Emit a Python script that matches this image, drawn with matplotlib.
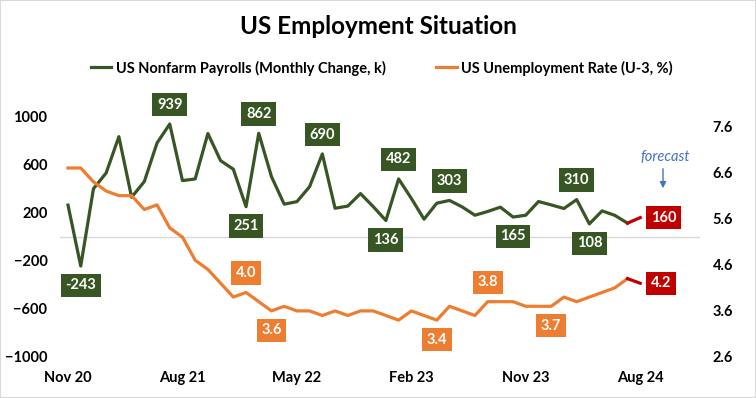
import numpy as np
import matplotlib
matplotlib.use("Agg")
import matplotlib.pyplot as plt
from matplotlib.patches import Rectangle

plt.rcParams['font.family'] = ['Lato', 'DejaVu Sans']

# data: Nov 2020 .. Jul 2024 (actual), Aug 2024 (forecast)
months = ["Nov 20", "Aug 21", "May 22", "Feb 23", "Nov 23", "Aug 24"]
month_tick_idx = [0, 9, 18, 27, 36, 45]

payrolls = [264, -243, 400, 532, 834, 330, 460, 781, 939, 468, 482, 860,
            634, 563, 251, 862, 501, 272, 293, 418, 690, 238, 256, 360,
            252, 136, 482, 320, 147, 280, 303, 249, 180, 211, 247, 165,
            180, 294, 266, 236, 310, 108, 216, 179, 114]
unemp = [6.7, 6.7, 6.4, 6.2, 6.1, 6.1, 5.8, 5.9, 5.4, 5.2, 4.7, 4.5,
         4.2, 3.9, 4.0, 3.8, 3.6, 3.7, 3.6, 3.6, 3.5, 3.6, 3.5, 3.6,
         3.6, 3.5, 3.4, 3.6, 3.5, 3.4, 3.7, 3.6, 3.5, 3.8, 3.8, 3.8,
         3.7, 3.7, 3.7, 3.9, 3.8, 3.9, 4.0, 4.1, 4.3]
payrolls_fc = 160
unemp_fc = 4.2

# which points get a label, and whether above (+1) or below (-1)
pay_labels = {1: -1, 8: 1, 14: -1, 15: 1, 20: 1, 25: -1, 26: 1, 30: 1,
              35: -1, 40: 1, 41: -1}
unemp_labels = {14: 1, 16: -1, 29: -1, 33: 1, 38: -1}

GREEN = "#375623"
ORANGE = "#ED7D31"
RED = "#C00000"
BLUE = "#4472C4"

W, H = 756, 398
fig = plt.figure(figsize=(W / 100, H / 100), dpi=100)
fig.patches.append(Rectangle((0, 0), 1, 1, transform=fig.transFigure,
                             fill=False, edgecolor="#D9D9D9", lw=1.5))

ax = fig.add_axes([60 / W, 1 - 357 / H, 640 / W, 257 / H])
ax2 = ax.twinx()

n = len(payrolls)
x = np.arange(n)

ax.axhline(0, color="#D9D9D9", lw=1, zorder=1)
ax.plot(x, payrolls, color=GREEN, lw=2.3, zorder=3)
ax.plot([n - 1, n], [payrolls[-1], payrolls_fc], color=RED, lw=2.3, zorder=3)
ax2.plot(x, unemp, color=ORANGE, lw=2.3, zorder=3)
ax2.plot([n - 1, n], [unemp[-1], unemp_fc], color=RED, lw=2.3, zorder=3)

ax.set_xlim(-0.63, 49.7)
ax.set_ylim(-1000, 1139)
ax2.set_ylim(2.6, 8.175)

ax.set_yticks([-1000, -600, -200, 200, 600, 1000])
ax2.set_yticks([2.6, 3.6, 4.6, 5.6, 6.6, 7.6])
ax2.set_yticklabels(["2.6", "3.6", "4.6", "5.6", "6.6", "7.6"])
ax.set_xticks(month_tick_idx)
ax.set_xticklabels(months)

for a in (ax, ax2):
    for s in a.spines.values():
        s.set_visible(False)
ax.tick_params(axis="y", length=0, pad=9, labelsize=10.5)
ax2.tick_params(axis="y", length=0, pad=9, labelsize=10.5)
ax.tick_params(axis="x", length=0, pad=10, labelsize=10.5)
for lbl in ax.get_yticklabels() + ax2.get_yticklabels() + ax.get_xticklabels():
    lbl.set_fontweight("bold")


def box_label(a, xi, yv, text, color, dy=0, dx=0, va="center", ha="center"):
    a.annotate(text, (xi, yv), xytext=(dx, dy), textcoords="offset points",
               ha=ha, va=va, color="white", fontsize=10.5, fontweight="bold",
               zorder=5,
               bbox=dict(boxstyle="square,pad=0.32", fc=color, ec="none"))


for i, side in pay_labels.items():
    box_label(ax, i, payrolls[i], str(payrolls[i]), GREEN, dy=14 * side)
for i, side in unemp_labels.items():
    box_label(ax2, i, unemp[i], f"{unemp[i]:.1f}", ORANGE, dy=14 * side)

box_label(ax, n, payrolls_fc, str(payrolls_fc), RED, dx=17)
box_label(ax2, n, unemp_fc, f"{unemp_fc:.1f}", RED, dx=15)

# forecast note
ax.annotate("", xy=(663 / W, 1 - 191 / H), xytext=(663 / W, 1 - 166 / H),
            xycoords="figure fraction", textcoords="figure fraction",
            arrowprops=dict(arrowstyle="-|>", color=BLUE, lw=1,
                            mutation_scale=9))
fig.text(665 / W, 1 - 157 / H, "forecast", color=BLUE, style="italic",
         fontsize=10.5, ha="center", va="center")

fig.text(0.5, 1 - 27 / H, "US Employment Situation", ha="center", va="center",
         fontsize=17.5, fontweight="bold")

h1, = ax.plot([], [], color=GREEN, lw=2.3)
h2, = ax.plot([], [], color=ORANGE, lw=2.3)
fig.legend([h1, h2], ["US Nonfarm Payrolls (Monthly Change, k)",
                      "US Unemployment Rate (U-3, %)"],
           loc="center", bbox_to_anchor=(0.505, 1 - 68 / H), ncol=2,
           frameon=False, handlelength=1.4, handletextpad=0.3,
           columnspacing=3.5, prop=dict(weight="bold", size=10.5))

fig.savefig("out.png", dpi=100)
